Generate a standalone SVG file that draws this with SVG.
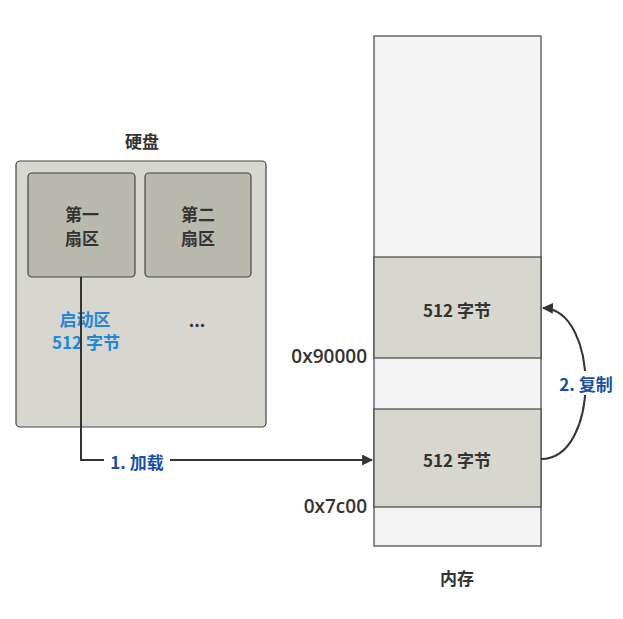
<svg xmlns="http://www.w3.org/2000/svg" width="623" height="619" viewBox="0 0 623 619">
<style>
text{font-family:"Noto Sans CJK SC","Noto Sans",sans-serif;font-weight:bold;font-size:17px;fill:#333;text-anchor:middle;dominant-baseline:central}
.num{font-family:"Open Sans","Noto Sans CJK SC",sans-serif;font-weight:600;font-size:19px}
.lbl{fill:#1b4fa3}
.blue{fill:#2585d8}
.mem{stroke:#444;stroke-width:1.2}
.edge{fill:none;stroke:#333;stroke-width:2}
</style>
<defs>
<marker id="ah" viewBox="0 0 10 10" refX="9" refY="5" markerWidth="11" markerHeight="11" markerUnits="userSpaceOnUse" orient="auto">
<path d="M0,0 L10,5 L0,10 z" fill="#333"/>
</marker>
</defs>
<rect width="623" height="619" fill="#fff"/>
<g id="disk">
<text x="142" y="140">硬盘</text>
<rect x="16" y="161" width="250" height="266" rx="4" fill="#d7d7cf" stroke="#444" stroke-width="1.2"/>
<text class="blue" x="85" y="318">启动区</text>
<text class="blue" x="86" y="341">512 字节</text>
<text x="197" y="319">...</text>
</g>
<g id="sector1">
<rect x="28" y="173" width="107" height="104" rx="4" fill="#b9b9ad" stroke="#444" stroke-width="1.2"/>
<text x="82" y="213">第一</text>
<text x="82" y="237">扇区</text>
</g>
<g id="sector2">
<rect x="145" y="173" width="106" height="104" rx="4" fill="#b9b9ad" stroke="#444" stroke-width="1.2"/>
<text x="198" y="213">第二</text>
<text x="198" y="237">扇区</text>
</g>
<g id="memory">
<rect class="mem" x="374" y="36" width="167" height="510" fill="#f3f3f3"/>
<rect class="mem" x="374" y="257" width="167" height="101" fill="#d7d7cf"/>
<rect class="mem" x="374" y="409" width="167" height="98" fill="#d7d7cf"/>
<text x="457" y="309">512 字节</text>
<text x="457" y="459">512 字节</text>
<text class="num" x="367" y="356" style="text-anchor:end">0x90000</text>
<text class="num" x="367" y="506" style="text-anchor:end">0x7c00</text>
<text x="457" y="577">内存</text>
</g>
<g id="connectors">
<path class="edge" d="M81,277 V460 H372" marker-end="url(#ah)"/>
<rect x="104" y="449" width="66" height="24" fill="#fff"/>
<text class="lbl" x="137" y="461">1. 加载</text>
<path class="edge" d="M541,459 C600,459 600,310 543,308" marker-end="url(#ah)"/>
<rect x="553" y="371" width="66" height="24" fill="#fff"/>
<text class="lbl" x="586" y="383">2. 复制</text>
</g>
</svg>
